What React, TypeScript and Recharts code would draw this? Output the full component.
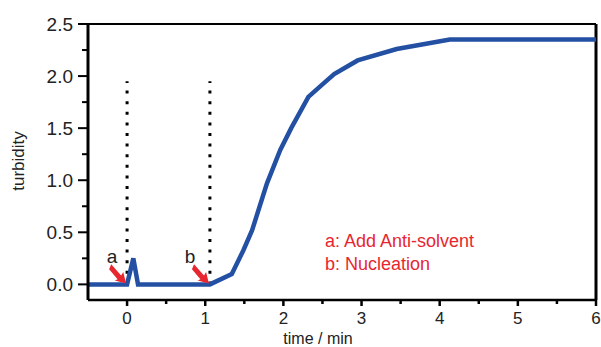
import { LineChart, Line, XAxis, YAxis, ReferenceLine, ReferenceDot } from "recharts";

// time (min) and turbidity
const times = [-0.5, 0, 0.08, 0.14, 1.06, 1.34, 1.49, 1.6, 1.79, 1.96, 2.1, 2.32, 2.5, 2.65, 2.95, 3.45, 4.13, 6];
const turbidity = [0, 0, 0.25, 0, 0, 0.1, 0.33, 0.52, 0.97, 1.29, 1.5, 1.8, 1.92, 2.02, 2.15, 2.26, 2.35, 2.35];

const xTicks = [0, 0.5, 1, 1.5, 2, 2.5, 3, 3.5, 4, 4.5, 5, 5.5, 6];
const yTicks = [0, 0.25, 0.5, 0.75, 1, 1.25, 1.5, 1.75, 2, 2.25, 2.5];

const eventTimes = [0, 1.06];
const eventLabels = ["a", "b"];
const eventTop = 1.95;
const legendLines = ["a: Add Anti-solvent", "b: Nucleation"];

const data = times.map((t, i) => ({ t, turbidity: turbidity[i] }));

const FONT = '"Liberation Sans", Arial, sans-serif';
const BLUE = "#2350a2";
const RED = "#e8262f";

const isMajor = (v: number, step: number) => Math.abs(v / step - Math.round(v / step)) < 1e-6;

const YTick = (props: any) => {
  const { x, y, payload } = props;
  const v = payload.value as number;
  const major = isMajor(v, 0.5);
  return (
    <g>
      <line x1={x + (major ? 5 : 9)} x2={x + 15} y1={y} y2={y} stroke="#000" strokeWidth={2} />
      {major && (
        <text x={x} y={y} dy="0.36em" textAnchor="end" fontSize={19} fontFamily={FONT} fill="#222">
          {v.toFixed(1)}
        </text>
      )}
    </g>
  );
};

const XTick = (props: any) => {
  const { x, y, payload } = props;
  const v = payload.value as number;
  const major = isMajor(v, 1);
  const base = y - 12;
  return (
    <g>
      <line x1={x} x2={x} y1={base} y2={base + (major ? 6 : 4)} stroke="#000" strokeWidth={2.5} />
      {major && (
        <text x={x} y={y} dy="0.71em" textAnchor="middle" fontSize={17} fontFamily={FONT} fill="#222">
          {v}
        </text>
      )}
    </g>
  );
};

const EventArrow = (props: any) => {
  const { cx, cy, label, labelDx } = props;
  if (cx == null || cy == null) return null;
  return (
    <g>
      <g transform={`translate(${cx - 1},${cy - 1}) rotate(45)`}>
        <polygon points="0,0 -10,-6 -9,-2 -24,-3 -22,2 -9,3 -10,6" fill={RED} />
      </g>
      <text x={cx + labelDx} y={cy - 21} textAnchor="middle" fontSize={19} fontFamily={FONT} fill="#222">
        {label}
      </text>
    </g>
  );
};

export default function App() {
  return (
    <div
      style={{
        position: "absolute",
        left: 0,
        top: 0,
        width: 601,
        height: 347,
        background: "#fff",
        fontFamily: FONT,
      }}
    >
      <LineChart width={601} height={347} data={data} margin={{ top: 24, right: 5, left: 0, bottom: 17 }}>
        <XAxis
          type="number"
          dataKey="t"
          domain={[-0.5, 6]}
          ticks={xTicks}
          interval={0}
          tickSize={6}
          tickMargin={6}
          tickLine={false}
          axisLine={{ stroke: "#000", strokeWidth: 2.5 }}
          tick={XTick}
          height={30}
        />
        <YAxis
          type="number"
          domain={[-0.15, 2.5]}
          ticks={yTicks}
          interval={0}
          width={88}
          tickSize={10}
          tickMargin={5}
          tickLine={false}
          axisLine={{ stroke: "#000", strokeWidth: 3 }}
          tick={YTick}
        />
        <ReferenceLine y={2.5} stroke="#000" strokeWidth={2} />
        <ReferenceLine x={6} stroke="#000" strokeWidth={3} />
        {eventTimes.map((t) => (
          <ReferenceLine
            key={`ev-${t}`}
            segment={[
              { x: t, y: 0 },
              { x: t, y: eventTop },
            ]}
            stroke="#000"
            strokeWidth={3}
            strokeDasharray="3 7.6"
          />
        ))}
        <Line
          type="linear"
          dataKey="turbidity"
          stroke={BLUE}
          strokeWidth={4.5}
          dot={false}
          isAnimationActive={false}
        />
        {eventTimes.map((t, i) => (
          <ReferenceDot
            key={`arrow-${t}`}
            x={t}
            y={0}
            r={3}
            shape={(p: any) => <EventArrow {...p} label={eventLabels[i]} labelDx={i === 0 ? -15 : -20} />}
          />
        ))}
      </LineChart>
      <svg
        width={601}
        height={347}
        style={{ position: "absolute", left: 0, top: 0, pointerEvents: "none" }}
      >
        <text
          x={18}
          y={161}
          transform="rotate(-90 18 161)"
          textAnchor="middle"
          dominantBaseline="central"
          fontSize={17}
          fontFamily={FONT}
          fill="#222"
        >
          turbidity
        </text>
        <text x={318} y={344} textAnchor="middle" fontSize={16} fontFamily={FONT} fill="#222">
          time / min
        </text>
        {legendLines.map((s, i) => (
          <text key={s} x={325} y={247 + i * 23} fontSize={18} fontFamily={FONT} fill={RED}>
            {s}
          </text>
        ))}
      </svg>
    </div>
  );
}
